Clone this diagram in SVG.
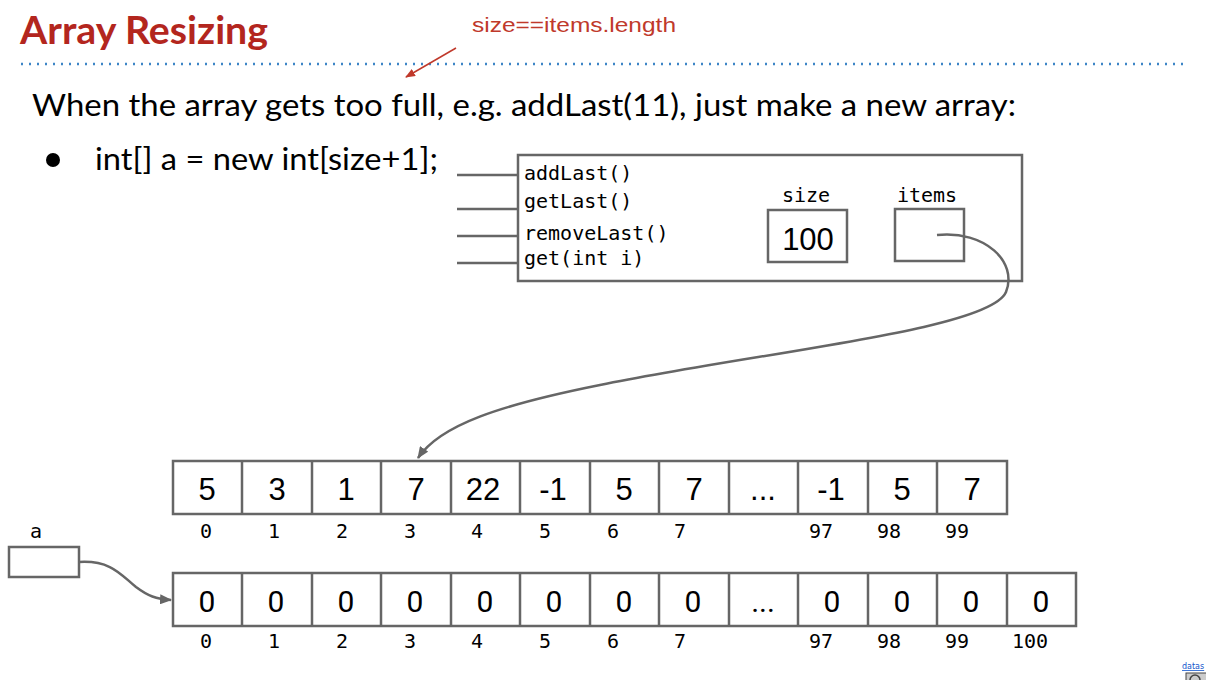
<svg xmlns="http://www.w3.org/2000/svg" width="1206" height="680" viewBox="0 0 1206 680">
  <defs>
    <style>
      .title { font-family: Lato, "Open Sans", sans-serif; font-weight: bold; font-size: 39px; fill: #b3261e; }
      .note { font-family: "Liberation Sans", Arial, sans-serif; font-size: 20px; fill: #c0392b; }
      .body { font-family: Lato, "Open Sans", sans-serif; font-size: 30px; fill: #000; }
      .mono { font-family: "DejaVu Sans Mono", monospace; font-size: 20px; fill: #000; }
      .val { font-family: "Liberation Sans", Arial, sans-serif; font-size: 31px; fill: #000; text-anchor: middle; }
      .zero { font-family: Roboto, "Liberation Sans", sans-serif; font-size: 30px; fill: #000; text-anchor: middle; }
      .box { fill: #fff; stroke: #666; stroke-width: 2.5; }
      .wire { fill: none; stroke: #666; stroke-width: 2.5; }
      .link { font-family: "DejaVu Sans", sans-serif; font-size: 8px; fill: #1155cc; text-decoration: underline; }
    </style>
    <marker id="gray-head" viewBox="0 0 12 10" refX="11" refY="5" markerWidth="12" markerHeight="10" markerUnits="userSpaceOnUse" orient="auto">
      <path d="M0,0 L12,5 L0,10 Z" fill="#666"/>
    </marker>
    <marker id="red-head" viewBox="0 0 10 8" refX="9" refY="4" markerWidth="10" markerHeight="8" markerUnits="userSpaceOnUse" orient="auto">
      <path d="M0,0 L10,4 L0,8 Z" fill="#c0392b"/>
    </marker>
  </defs>

  <rect width="1206" height="680" fill="#fff"/>

  <!-- heading -->
  <text class="title" x="20" y="44" textLength="248" lengthAdjust="spacingAndGlyphs">Array Resizing</text>
  <line x1="21" y1="64" x2="1184" y2="64" stroke="#3d85c6" stroke-width="2.5" stroke-dasharray="2 6"/>

  <!-- annotation -->
  <g id="note">
    <text class="note" x="472" y="32" textLength="204" lengthAdjust="spacingAndGlyphs">size==items.length</text>
    <line x1="456" y1="48" x2="406" y2="77" stroke="#c0392b" stroke-width="1.5" marker-end="url(#red-head)"/>
  </g>

  <!-- prose -->
  <text class="body" x="32" y="116" textLength="984" lengthAdjust="spacingAndGlyphs">When the array gets too full, e.g. addLast(11), just make a new array:</text>
  <circle cx="53" cy="160" r="7" fill="#000"/>
  <text class="body" x="95" y="170" textLength="343" lengthAdjust="spacingAndGlyphs">int[] a = new int[size+1];</text>

  <!-- AList object -->
  <g id="alist">
    <rect class="box" x="518" y="155" width="504" height="126"/>
    <line class="wire" x1="457" y1="175" x2="518" y2="175"/>
    <line class="wire" x1="457" y1="209" x2="518" y2="209"/>
    <line class="wire" x1="457" y1="236" x2="518" y2="236"/>
    <line class="wire" x1="457" y1="263" x2="518" y2="263"/>
    <text class="mono" x="524" y="180">addLast()</text>
    <text class="mono" x="524" y="208">getLast()</text>
    <text class="mono" x="524" y="240">removeLast()</text>
    <text class="mono" x="524" y="265">get(int i)</text>
  </g>
  <g id="size">
    <text class="mono" x="806" y="202" text-anchor="middle">size</text>
    <rect class="box" x="768" y="210" width="79" height="52"/>
    <text class="val" x="808" y="250">100</text>
  </g>
  <g id="items">
    <text class="mono" x="927" y="202" text-anchor="middle">items</text>
    <rect class="box" x="895" y="209" width="69" height="52"/>
  </g>

  <!-- old array -->
  <g id="old-array">
    <rect class="box" x="173" y="461" width="834" height="53"/>
    <g class="wire">
      <line x1="242" y1="461" x2="242" y2="514"/>
      <line x1="312" y1="461" x2="312" y2="514"/>
      <line x1="381" y1="461" x2="381" y2="514"/>
      <line x1="451" y1="461" x2="451" y2="514"/>
      <line x1="520" y1="461" x2="520" y2="514"/>
      <line x1="590" y1="461" x2="590" y2="514"/>
      <line x1="659" y1="461" x2="659" y2="514"/>
      <line x1="729" y1="461" x2="729" y2="514"/>
      <line x1="798" y1="461" x2="798" y2="514"/>
      <line x1="868" y1="461" x2="868" y2="514"/>
      <line x1="937" y1="461" x2="937" y2="514"/>
    </g>
    <text class="val" x="207" y="500">5</text>
    <text class="val" x="277" y="500">3</text>
    <text class="val" x="346" y="500">1</text>
    <text class="val" x="416" y="500">7</text>
    <text class="val" x="483" y="500">22</text>
    <text class="val" x="553" y="500">-1</text>
    <text class="val" x="624" y="500">5</text>
    <text class="val" x="694" y="500">7</text>
    <text class="val" x="763" y="500">...</text>
    <text class="val" x="831" y="500">-1</text>
    <text class="val" x="902" y="500">5</text>
    <text class="val" x="972" y="500">7</text>
    <g class="mono">
      <text x="200" y="538">0</text>
      <text x="268" y="538">1</text>
      <text x="336" y="538">2</text>
      <text x="404" y="538">3</text>
      <text x="471" y="538">4</text>
      <text x="539" y="538">5</text>
      <text x="607" y="538">6</text>
      <text x="674" y="538">7</text>
      <text x="809" y="538">97</text>
      <text x="877" y="538">98</text>
      <text x="945" y="538">99</text>
    </g>
  </g>

  <!-- variable a -->
  <g id="var-a">
    <text class="mono" x="30" y="538">a</text>
    <rect class="box" x="9" y="547" width="70" height="30"/>
  </g>

  <!-- new array -->
  <g id="new-array">
    <rect class="box" x="173" y="573" width="903" height="53"/>
    <g class="wire">
      <line x1="242" y1="573" x2="242" y2="626"/>
      <line x1="312" y1="573" x2="312" y2="626"/>
      <line x1="381" y1="573" x2="381" y2="626"/>
      <line x1="451" y1="573" x2="451" y2="626"/>
      <line x1="520" y1="573" x2="520" y2="626"/>
      <line x1="590" y1="573" x2="590" y2="626"/>
      <line x1="659" y1="573" x2="659" y2="626"/>
      <line x1="729" y1="573" x2="729" y2="626"/>
      <line x1="798" y1="573" x2="798" y2="626"/>
      <line x1="868" y1="573" x2="868" y2="626"/>
      <line x1="937" y1="573" x2="937" y2="626"/>
      <line x1="1007" y1="573" x2="1007" y2="626"/>
    </g>
    <text class="zero" x="207" y="612">0</text>
    <text class="zero" x="276" y="612">0</text>
    <text class="zero" x="346" y="612">0</text>
    <text class="zero" x="415" y="612">0</text>
    <text class="zero" x="485" y="612">0</text>
    <text class="zero" x="554" y="612">0</text>
    <text class="zero" x="624" y="612">0</text>
    <text class="zero" x="693" y="612">0</text>
    <text class="zero" x="763" y="612">...</text>
    <text class="zero" x="832" y="612">0</text>
    <text class="zero" x="902" y="612">0</text>
    <text class="zero" x="971" y="612">0</text>
    <text class="zero" x="1041" y="612">0</text>
    <g class="mono">
      <text x="200" y="648">0</text>
      <text x="268" y="648">1</text>
      <text x="336" y="648">2</text>
      <text x="404" y="648">3</text>
      <text x="471" y="648">4</text>
      <text x="539" y="648">5</text>
      <text x="607" y="648">6</text>
      <text x="674" y="648">7</text>
      <text x="809" y="648">97</text>
      <text x="877" y="648">98</text>
      <text x="945" y="648">99</text>
      <text x="1012" y="648">100</text>
    </g>
  </g>

  <!-- pointers -->
  <g id="connectors">
    <path class="wire" d="M937,235 C985,230 1018,262 1006,292 C990,330 760,352 600,385 C500,405 440,425 418,458" marker-end="url(#gray-head)"/>
    <path class="wire" d="M79,562 C112,560 122,576 136,587 C148,596 156,599 171,600" marker-end="url(#gray-head)"/>
  </g>

  <!-- footer link -->
  <text class="link" x="1182" y="669">datas</text>
  <rect x="1186" y="673" width="24" height="10" fill="#ccc" stroke="#444" stroke-width="1"/>
  <circle cx="1195" cy="680" r="5" fill="none" stroke="#444" stroke-width="1.5"/>
</svg>
